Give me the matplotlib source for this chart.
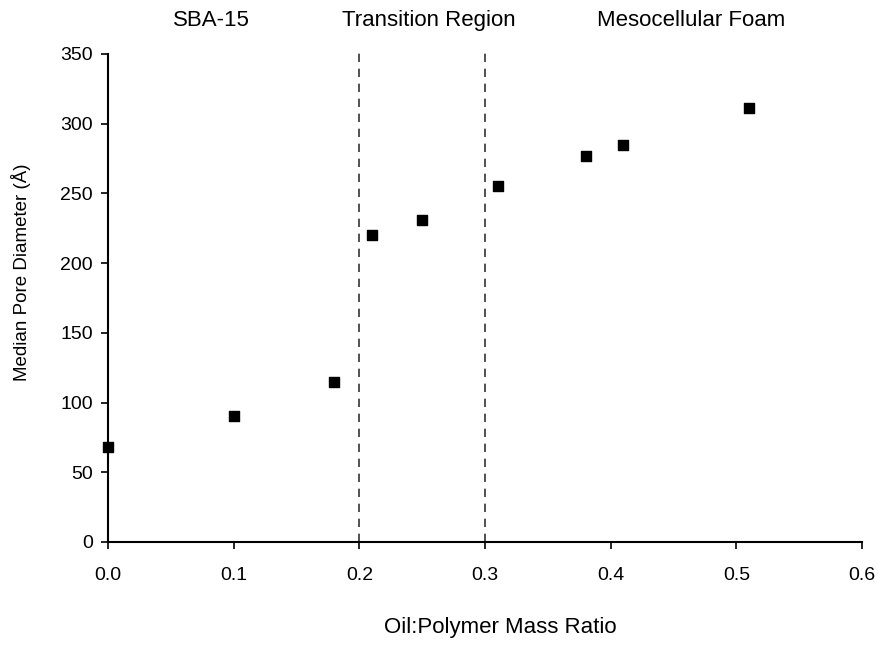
import matplotlib
matplotlib.use("Agg")
import matplotlib.pyplot as plt

oil_ratio = [0.0, 0.10, 0.18, 0.21, 0.25, 0.31, 0.38, 0.41, 0.51]
pore_diameter = [68, 90, 115, 220, 231, 255, 277, 285, 311]
boundaries = [0.2, 0.3]
regions = ["SBA-15", "Transition Region", "Mesocellular Foam"]
region_x = [0.082, 0.2555, 0.464]

plt.rcParams['font.family'] = ['Liberation Sans', 'DejaVu Sans']

fig = plt.figure(figsize=(8.79, 6.48), dpi=100)
ax = fig.add_axes([0.1229, 0.1636, 0.8578, 0.7531])

ax.scatter(oil_ratio, pore_diameter, marker='s', s=52, color='black', zorder=3, clip_on=False)
for b in boundaries:
    ax.plot([b, b], [0, 354], ls=(0, (5, 4)), color='#333333', lw=1.2, clip_on=False)

ax.set_xlim(0, 0.6)
ax.set_ylim(0, 350)
ax.set_xticks([0.0, 0.1, 0.2, 0.3, 0.4, 0.5, 0.6])
ax.set_xticklabels(["0.0", "0.1", "0.2", "0.3", "0.4", "0.5", "0.6"])
ax.set_yticks(range(0, 351, 50))
ax.spines['top'].set_visible(False)
ax.spines['right'].set_visible(False)
for s in ['left', 'bottom']:
    ax.spines[s].set_linewidth(1.5)
ax.tick_params(direction='out', length=5, width=1.2, labelsize=14)
ax.tick_params(axis='x', pad=13)
ax.tick_params(axis='y', pad=6)

for name, x in zip(regions, region_x):
    ax.text(x, 1.069, name, transform=ax.get_xaxis_transform(), ha='center', va='center', fontsize=16)

ax.set_xlabel("Oil:Polymer Mass Ratio", fontsize=16, va='center')
ax.xaxis.set_label_coords(0.52, -0.176)
ax.set_ylabel("Median Pore Diameter (Å)", fontsize=13.5, va='center')
ax.yaxis.set_label_coords(-0.115, 0.553)

fig.savefig("out.png", dpi=100, facecolor='white')
